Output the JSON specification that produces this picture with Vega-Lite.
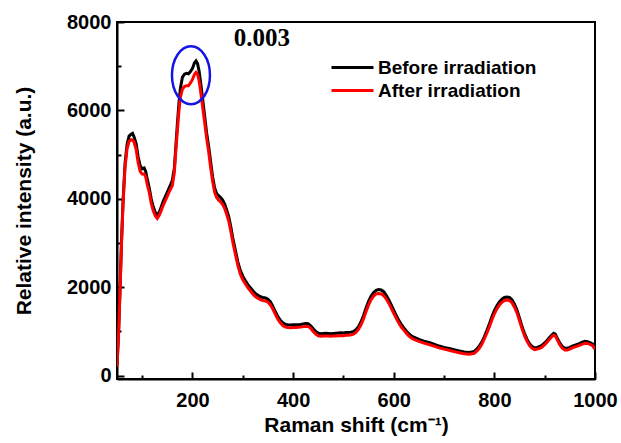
{
  "$schema": "https://vega.github.io/schema/vega-lite/v6.json",
  "width": 478,
  "height": 357,
  "autosize": "none",
  "padding": {"left": 117, "top": 22, "right": 26, "bottom": 64},
  "background": "white",
  "config": {
    "view": {"stroke": "black", "strokeWidth": 2},
    "font": "Liberation Sans"
  },
  "datasets": {
    "spectra": [
      {"shift": 50, "Before irradiation": 250, "After irradiation": 200},
      {"shift": 53, "Before irradiation": 950, "After irradiation": 900},
      {"shift": 56, "Before irradiation": 1950, "After irradiation": 1900},
      {"shift": 59, "Before irradiation": 3050, "After irradiation": 3000},
      {"shift": 62, "Before irradiation": 3950, "After irradiation": 3880},
      {"shift": 66, "Before irradiation": 4800, "After irradiation": 4720},
      {"shift": 70, "Before irradiation": 5230, "After irradiation": 5130},
      {"shift": 74, "Before irradiation": 5420, "After irradiation": 5300},
      {"shift": 78, "Before irradiation": 5460, "After irradiation": 5340},
      {"shift": 81, "Before irradiation": 5480, "After irradiation": 5330},
      {"shift": 84, "Before irradiation": 5400, "After irradiation": 5280},
      {"shift": 88, "Before irradiation": 5250, "After irradiation": 5120},
      {"shift": 92, "Before irradiation": 4950, "After irradiation": 4820},
      {"shift": 96, "Before irradiation": 4750, "After irradiation": 4620},
      {"shift": 100, "Before irradiation": 4680, "After irradiation": 4560},
      {"shift": 104, "Before irradiation": 4700, "After irradiation": 4560},
      {"shift": 107, "Before irradiation": 4620, "After irradiation": 4500},
      {"shift": 110, "Before irradiation": 4450, "After irradiation": 4330},
      {"shift": 114, "Before irradiation": 4250, "After irradiation": 4150},
      {"shift": 118, "Before irradiation": 4000, "After irradiation": 3900},
      {"shift": 122, "Before irradiation": 3820, "After irradiation": 3730},
      {"shift": 126, "Before irradiation": 3700, "After irradiation": 3620},
      {"shift": 130, "Before irradiation": 3640, "After irradiation": 3560},
      {"shift": 134, "Before irradiation": 3700, "After irradiation": 3630},
      {"shift": 138, "Before irradiation": 3820, "After irradiation": 3740},
      {"shift": 142, "Before irradiation": 3950, "After irradiation": 3860},
      {"shift": 146, "Before irradiation": 4050, "After irradiation": 3960},
      {"shift": 150, "Before irradiation": 4150, "After irradiation": 4060},
      {"shift": 155, "Before irradiation": 4280, "After irradiation": 4190},
      {"shift": 160, "Before irradiation": 4420, "After irradiation": 4300},
      {"shift": 164, "Before irradiation": 4700, "After irradiation": 4600},
      {"shift": 167, "Before irradiation": 5200, "After irradiation": 5100},
      {"shift": 170, "Before irradiation": 5700, "After irradiation": 5550},
      {"shift": 173, "Before irradiation": 6150, "After irradiation": 5980},
      {"shift": 176, "Before irradiation": 6500, "After irradiation": 6300},
      {"shift": 180, "Before irradiation": 6750, "After irradiation": 6480},
      {"shift": 184, "Before irradiation": 6820, "After irradiation": 6540},
      {"shift": 188, "Before irradiation": 6840, "After irradiation": 6560},
      {"shift": 192, "Before irradiation": 6830, "After irradiation": 6560},
      {"shift": 196, "Before irradiation": 6880, "After irradiation": 6620},
      {"shift": 200, "Before irradiation": 6950, "After irradiation": 6700},
      {"shift": 204, "Before irradiation": 7080, "After irradiation": 6820},
      {"shift": 207, "Before irradiation": 7120, "After irradiation": 6860},
      {"shift": 210, "Before irradiation": 7060, "After irradiation": 6820},
      {"shift": 213, "Before irradiation": 6900, "After irradiation": 6680},
      {"shift": 216, "Before irradiation": 6650, "After irradiation": 6450},
      {"shift": 220, "Before irradiation": 6280, "After irradiation": 6100},
      {"shift": 224, "Before irradiation": 5900, "After irradiation": 5750},
      {"shift": 228, "Before irradiation": 5500, "After irradiation": 5380},
      {"shift": 232, "Before irradiation": 5200, "After irradiation": 5080},
      {"shift": 236, "Before irradiation": 4850, "After irradiation": 4720},
      {"shift": 240, "Before irradiation": 4500, "After irradiation": 4400},
      {"shift": 244, "Before irradiation": 4250, "After irradiation": 4150},
      {"shift": 248, "Before irradiation": 4120, "After irradiation": 4030},
      {"shift": 252, "Before irradiation": 4070, "After irradiation": 3970},
      {"shift": 256, "Before irradiation": 4030, "After irradiation": 3930},
      {"shift": 260, "Before irradiation": 3970, "After irradiation": 3870},
      {"shift": 264, "Before irradiation": 3880, "After irradiation": 3780},
      {"shift": 268, "Before irradiation": 3750, "After irradiation": 3650},
      {"shift": 272, "Before irradiation": 3600, "After irradiation": 3500},
      {"shift": 276, "Before irradiation": 3380, "After irradiation": 3280},
      {"shift": 280, "Before irradiation": 3120, "After irradiation": 3030},
      {"shift": 285, "Before irradiation": 2850, "After irradiation": 2760},
      {"shift": 290, "Before irradiation": 2580, "After irradiation": 2500},
      {"shift": 295, "Before irradiation": 2380, "After irradiation": 2300},
      {"shift": 300, "Before irradiation": 2250, "After irradiation": 2170},
      {"shift": 305, "Before irradiation": 2150, "After irradiation": 2080},
      {"shift": 310, "Before irradiation": 2060, "After irradiation": 1990},
      {"shift": 315, "Before irradiation": 1990, "After irradiation": 1920},
      {"shift": 320, "Before irradiation": 1920, "After irradiation": 1850},
      {"shift": 325, "Before irradiation": 1860, "After irradiation": 1790},
      {"shift": 330, "Before irradiation": 1820, "After irradiation": 1750},
      {"shift": 335, "Before irradiation": 1790, "After irradiation": 1720},
      {"shift": 340, "Before irradiation": 1770, "After irradiation": 1700},
      {"shift": 345, "Before irradiation": 1760, "After irradiation": 1690},
      {"shift": 350, "Before irradiation": 1730, "After irradiation": 1660},
      {"shift": 355, "Before irradiation": 1670, "After irradiation": 1600},
      {"shift": 360, "Before irradiation": 1560, "After irradiation": 1500},
      {"shift": 365, "Before irradiation": 1440, "After irradiation": 1380},
      {"shift": 370, "Before irradiation": 1330, "After irradiation": 1270},
      {"shift": 375, "Before irradiation": 1250, "After irradiation": 1190},
      {"shift": 380, "Before irradiation": 1190, "After irradiation": 1130},
      {"shift": 385, "Before irradiation": 1160, "After irradiation": 1100},
      {"shift": 390, "Before irradiation": 1150, "After irradiation": 1090},
      {"shift": 395, "Before irradiation": 1145, "After irradiation": 1085},
      {"shift": 400, "Before irradiation": 1150, "After irradiation": 1090},
      {"shift": 405, "Before irradiation": 1150, "After irradiation": 1090},
      {"shift": 410, "Before irradiation": 1155, "After irradiation": 1095},
      {"shift": 415, "Before irradiation": 1160, "After irradiation": 1100},
      {"shift": 420, "Before irradiation": 1170, "After irradiation": 1110},
      {"shift": 425, "Before irradiation": 1180, "After irradiation": 1120},
      {"shift": 430, "Before irradiation": 1175, "After irradiation": 1115},
      {"shift": 435, "Before irradiation": 1130, "After irradiation": 1070},
      {"shift": 440, "Before irradiation": 1060, "After irradiation": 1000},
      {"shift": 445, "Before irradiation": 1000, "After irradiation": 940},
      {"shift": 450, "Before irradiation": 960, "After irradiation": 900},
      {"shift": 455, "Before irradiation": 950, "After irradiation": 890},
      {"shift": 460, "Before irradiation": 955, "After irradiation": 895},
      {"shift": 465, "Before irradiation": 960, "After irradiation": 900},
      {"shift": 470, "Before irradiation": 955, "After irradiation": 895},
      {"shift": 475, "Before irradiation": 950, "After irradiation": 890},
      {"shift": 480, "Before irradiation": 955, "After irradiation": 895},
      {"shift": 485, "Before irradiation": 960, "After irradiation": 900},
      {"shift": 490, "Before irradiation": 965, "After irradiation": 905},
      {"shift": 495, "Before irradiation": 970, "After irradiation": 910},
      {"shift": 500, "Before irradiation": 965, "After irradiation": 905},
      {"shift": 505, "Before irradiation": 975, "After irradiation": 915},
      {"shift": 510, "Before irradiation": 975, "After irradiation": 915},
      {"shift": 515, "Before irradiation": 985, "After irradiation": 925},
      {"shift": 520, "Before irradiation": 1000, "After irradiation": 940},
      {"shift": 525, "Before irradiation": 1040, "After irradiation": 980},
      {"shift": 530, "Before irradiation": 1110, "After irradiation": 1050},
      {"shift": 535, "Before irradiation": 1220, "After irradiation": 1150},
      {"shift": 540, "Before irradiation": 1360, "After irradiation": 1290},
      {"shift": 545, "Before irradiation": 1530, "After irradiation": 1450},
      {"shift": 550, "Before irradiation": 1680, "After irradiation": 1600},
      {"shift": 555, "Before irradiation": 1800, "After irradiation": 1720},
      {"shift": 560, "Before irradiation": 1880, "After irradiation": 1800},
      {"shift": 565, "Before irradiation": 1930, "After irradiation": 1850},
      {"shift": 570, "Before irradiation": 1950, "After irradiation": 1860},
      {"shift": 575, "Before irradiation": 1940, "After irradiation": 1850},
      {"shift": 580, "Before irradiation": 1900, "After irradiation": 1810},
      {"shift": 585, "Before irradiation": 1820, "After irradiation": 1740},
      {"shift": 590, "Before irradiation": 1720, "After irradiation": 1640},
      {"shift": 595, "Before irradiation": 1600, "After irradiation": 1530},
      {"shift": 600, "Before irradiation": 1480, "After irradiation": 1410},
      {"shift": 605, "Before irradiation": 1360, "After irradiation": 1300},
      {"shift": 610, "Before irradiation": 1250, "After irradiation": 1190},
      {"shift": 615, "Before irradiation": 1160, "After irradiation": 1100},
      {"shift": 620, "Before irradiation": 1080, "After irradiation": 1030},
      {"shift": 625, "Before irradiation": 1010, "After irradiation": 960},
      {"shift": 630, "Before irradiation": 950, "After irradiation": 900},
      {"shift": 635, "Before irradiation": 900, "After irradiation": 850},
      {"shift": 640, "Before irradiation": 870, "After irradiation": 820},
      {"shift": 650, "Before irradiation": 820, "After irradiation": 775},
      {"shift": 660, "Before irradiation": 780, "After irradiation": 735},
      {"shift": 670, "Before irradiation": 750, "After irradiation": 705},
      {"shift": 680, "Before irradiation": 715, "After irradiation": 670},
      {"shift": 690, "Before irradiation": 670, "After irradiation": 630},
      {"shift": 700, "Before irradiation": 640, "After irradiation": 600},
      {"shift": 710, "Before irradiation": 615, "After irradiation": 575},
      {"shift": 720, "Before irradiation": 585, "After irradiation": 545},
      {"shift": 730, "Before irradiation": 560, "After irradiation": 520},
      {"shift": 740, "Before irradiation": 535, "After irradiation": 495},
      {"shift": 750, "Before irradiation": 525, "After irradiation": 485},
      {"shift": 760, "Before irradiation": 550, "After irradiation": 505},
      {"shift": 765, "Before irradiation": 600, "After irradiation": 555},
      {"shift": 770, "Before irradiation": 670, "After irradiation": 620},
      {"shift": 775, "Before irradiation": 760, "After irradiation": 710},
      {"shift": 780, "Before irradiation": 880, "After irradiation": 830},
      {"shift": 785, "Before irradiation": 1020, "After irradiation": 960},
      {"shift": 790, "Before irradiation": 1170, "After irradiation": 1100},
      {"shift": 795, "Before irradiation": 1330, "After irradiation": 1260},
      {"shift": 800, "Before irradiation": 1470, "After irradiation": 1400},
      {"shift": 805, "Before irradiation": 1580, "After irradiation": 1510},
      {"shift": 810, "Before irradiation": 1670, "After irradiation": 1600},
      {"shift": 815, "Before irradiation": 1730, "After irradiation": 1660},
      {"shift": 820, "Before irradiation": 1770, "After irradiation": 1700},
      {"shift": 825, "Before irradiation": 1780, "After irradiation": 1710},
      {"shift": 830, "Before irradiation": 1770, "After irradiation": 1700},
      {"shift": 835, "Before irradiation": 1720, "After irradiation": 1650},
      {"shift": 840, "Before irradiation": 1620, "After irradiation": 1550},
      {"shift": 845, "Before irradiation": 1480, "After irradiation": 1420},
      {"shift": 850, "Before irradiation": 1300, "After irradiation": 1240},
      {"shift": 855, "Before irradiation": 1110, "After irradiation": 1060},
      {"shift": 860, "Before irradiation": 950, "After irradiation": 900},
      {"shift": 865, "Before irradiation": 820, "After irradiation": 780},
      {"shift": 870, "Before irradiation": 720, "After irradiation": 680},
      {"shift": 875, "Before irradiation": 660, "After irradiation": 620},
      {"shift": 880, "Before irradiation": 630, "After irradiation": 590},
      {"shift": 885, "Before irradiation": 640, "After irradiation": 600},
      {"shift": 890, "Before irradiation": 660, "After irradiation": 620},
      {"shift": 895, "Before irradiation": 690, "After irradiation": 650},
      {"shift": 900, "Before irradiation": 740, "After irradiation": 700},
      {"shift": 905, "Before irradiation": 800, "After irradiation": 760},
      {"shift": 910, "Before irradiation": 870, "After irradiation": 830},
      {"shift": 915, "Before irradiation": 930, "After irradiation": 890},
      {"shift": 918, "Before irradiation": 960, "After irradiation": 915},
      {"shift": 921, "Before irradiation": 940, "After irradiation": 900},
      {"shift": 925, "Before irradiation": 850, "After irradiation": 810},
      {"shift": 930, "Before irradiation": 740, "After irradiation": 700},
      {"shift": 935, "Before irradiation": 660, "After irradiation": 620},
      {"shift": 940, "Before irradiation": 620, "After irradiation": 580},
      {"shift": 945, "Before irradiation": 620, "After irradiation": 580},
      {"shift": 950, "Before irradiation": 640, "After irradiation": 600},
      {"shift": 955, "Before irradiation": 670, "After irradiation": 630},
      {"shift": 960, "Before irradiation": 690, "After irradiation": 650},
      {"shift": 965, "Before irradiation": 710, "After irradiation": 670},
      {"shift": 970, "Before irradiation": 730, "After irradiation": 690},
      {"shift": 975, "Before irradiation": 760, "After irradiation": 715},
      {"shift": 980, "Before irradiation": 780, "After irradiation": 735},
      {"shift": 985, "Before irradiation": 770, "After irradiation": 730},
      {"shift": 990, "Before irradiation": 750, "After irradiation": 710},
      {"shift": 995, "Before irradiation": 720, "After irradiation": 680},
      {"shift": 1000, "Before irradiation": 640, "After irradiation": 600}
    ],
    "note": [{"shift": 338, "intensity": 7460, "label": "0.003"}],
    "circle": [{"shift": 197, "intensity": 6795}]
  },
  "encoding": {
    "x": {
      "field": "shift",
      "type": "quantitative",
      "scale": {"domain": [50, 1000], "nice": false, "zero": false},
      "axis": {
        "values": [100, 200, 300, 400, 500, 600, 700, 800, 900, 1000],
        "labelExpr": "datum.value % 200 === 0 ? datum.label : ''",
        "format": "d",
        "tickSize": {"condition": {"test": "datum.value % 200 === 0", "value": -7}, "value": -4},
        "tickWidth": 2,
        "tickColor": "black",
        "domainColor": "black",
        "domainWidth": 2,
        "grid": false,
        "labelFlush": false,
        "labelOverlap": false,
        "labelFont": "Liberation Sans",
        "labelFontWeight": "bold",
        "labelFontSize": 20,
        "labelColor": "black",
        "labelPadding": 18,
        "title": "Raman shift (cm⁻¹)",
        "titleFont": "Liberation Sans",
        "titleFontWeight": "bold",
        "titleFontSize": 21,
        "titleColor": "black",
        "titlePadding": 1
      }
    },
    "y": {
      "field": "intensity",
      "type": "quantitative",
      "scale": {"domain": [-75, 8000], "nice": false, "zero": false},
      "axis": {
        "values": [0, 1000, 2000, 3000, 4000, 5000, 6000, 7000, 8000],
        "labelExpr": "datum.value % 2000 === 0 ? datum.label : ''",
        "format": "d",
        "tickSize": {"condition": {"test": "datum.value % 2000 === 0", "value": -7}, "value": -4},
        "tickWidth": 2,
        "tickColor": "black",
        "domainColor": "black",
        "domainWidth": 2,
        "grid": false,
        "labelFlush": false,
        "labelOverlap": false,
        "labelFont": "Liberation Sans",
        "labelFontWeight": "bold",
        "labelFontSize": 20,
        "labelColor": "black",
        "labelPadding": 13,
        "title": "Relative intensity (a.u.)",
        "titleFont": "Liberation Sans",
        "titleFontWeight": "bold",
        "titleFontSize": 21,
        "titleColor": "black",
        "titlePadding": 32
      }
    }
  },
  "layer": [
    {
      "data": {"name": "spectra"},
      "transform": [
        {"fold": ["Before irradiation", "After irradiation"], "as": ["series", "intensity"]}
      ],
      "mark": {"type": "line", "strokeWidth": 3, "clip": true},
      "encoding": {
        "color": {
          "field": "series",
          "type": "nominal",
          "scale": {"domain": ["Before irradiation", "After irradiation"], "range": ["#000000", "#ff0000"]},
          "legend": {
            "orient": "none",
            "legendX": 226,
            "legendY": 36,
            "title": null,
            "padding": 0,
            "symbolType": "M-3,0H3",
            "symbolSize": 196,
            "symbolStrokeWidth": 3,
            "labelFont": "Liberation Sans",
            "labelFontWeight": "bold",
            "labelFontSize": 19,
            "labelColor": "black",
            "labelOffset": 16,
            "rowPadding": 3
          }
        }
      }
    },
    {
      "data": {"name": "note"},
      "mark": {"type": "text", "font": "Liberation Serif", "fontWeight": "bold", "fontSize": 25, "align": "center", "baseline": "alphabetic", "color": "black"},
      "encoding": {"text": {"field": "label"}}
    },
    {
      "data": {"name": "circle"},
      "mark": {"type": "point", "shape": "M-0.655,0A0.655,1 0 1,1 0.655,0A0.655,1 0 1,1 -0.655,0Z", "size": 3364, "filled": false, "stroke": "#1414e6", "strokeWidth": 2.5, "opacity": 1}
    }
  ]
}
